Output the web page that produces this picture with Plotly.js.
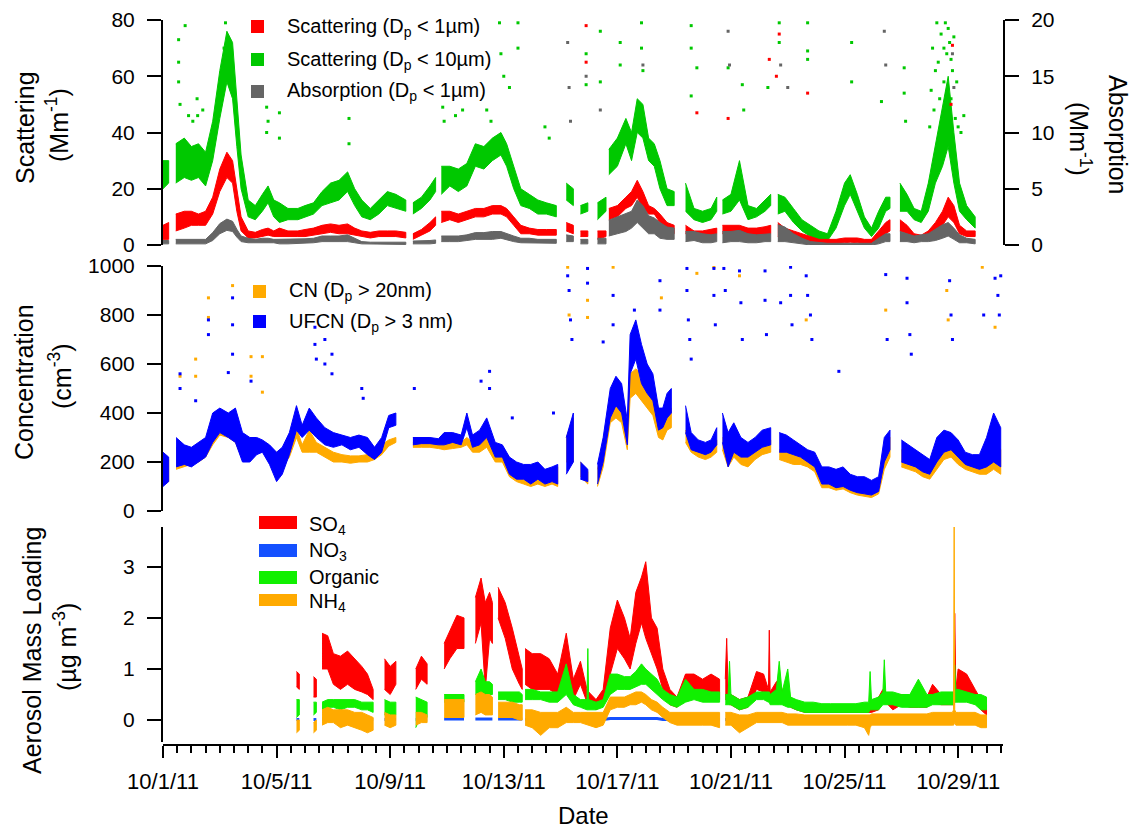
<!DOCTYPE html>
<html>
<head>
<meta charset="utf-8">
<script src="https://cdn.plot.ly/plotly-3.0.1.min.js"></script>
<style>
  html, body { margin: 0; padding: 0; background: #fff; }
  #chart { width: 1137px; height: 830px; }
</style>
</head>
<body>
<div id="chart"></div>
<script>
// Aerosol optical, number and composition record, October 2011.
// Times are days since 2011-10-01 00:00; null marks a gap in the record.
// Each band is the low/high envelope of the fast measurements.

// ---------- scattering / absorption ----------
const topDays = [
  0.0, 0.2, null,
  0.45, 0.75, 1.0, 1.25, 1.5, 1.75, 2.0, 2.25, 2.45, 2.6, 2.75, 3.0, 3.25, 3.5, 3.7, 3.9, 4.1, 4.4, 4.75, 5.0, 5.3, 5.6, 5.9, 6.2, 6.5, 6.75, 7.0, 7.3, 7.6, 7.9, 8.2, 8.55, null,
  8.8, 9.1, 9.4, 9.6, null,
  9.8, 10.1, 10.4, 10.7, 11.0, 11.3, 11.6, 11.9, 12.1, 12.35, 12.6, 12.9, 13.2, 13.5, 13.85, null,
  14.2, 14.45, null,
  14.7, 14.96, null,
  15.3, 15.6, null,
  15.7, 16.0, 16.3, 16.5, 16.7, 16.9, 17.1, 17.3, 17.5, 17.75, 18.0, null,
  18.4, 18.7, 19.0, 19.3, 19.5, null,
  19.7, 20.0, 20.3, 20.6, 20.9, 21.2, 21.4, null,
  21.65, 21.9, 22.2, 22.5, 22.8, 23.1, 23.4, 23.7, 24.0, 24.2, 24.45, 24.7, 24.95, 25.2, 25.45, 25.6, null,
  25.95, 26.2, 26.45, 26.7, 26.95, 27.2, 27.45, 27.65, 27.85, 28.05, 28.3, 28.6
];
const scat10Lo = [
  20, 22, null,
  22, 24, 23, 24, 21, 30, 45, 58, 52, 35, 20, 10, 9, 12, 15, 10, 8, 9, 9, 10, 11, 14, 15, 16, 19, 14, 10, 9, 11, 14, 13, 12, null,
  11, 13, 16, 19, null,
  18, 21, 19, 21, 28, 27, 30, 32, 28, 20, 14, 13, 11, 11, 10, null,
  16, 14, null,
  11, 12, null,
  9, 12, null,
  25, 28, 36, 30, 40, 38, 30, 28, 20, 14, 14, null,
  12, 9, 8, 9, 12, null,
  11, 12, 16, 9, 10, 12, 14, null,
  11, 12, 8, 5, 3, 1.5, 1.5, 6, 14, 18, 12, 6, 3, 6, 12, 13, null,
  12, 12, 9, 8, 12, 22, 28, 35, 22, 12, 9, 6
];
const scat10Hi = [
  30, 30, null,
  36, 38, 35, 36, 33, 44, 62, 76, 72, 52, 32, 16, 14, 18, 21, 16, 15, 13, 13, 14, 15, 19, 22, 23, 26, 20, 16, 13, 16, 19, 18, 16, null,
  15, 17, 21, 24, null,
  28, 28, 27, 29, 36, 35, 38, 40, 36, 28, 20, 18, 16, 15, 14, null,
  22, 20, null,
  14, 15, null,
  15, 17, null,
  34, 38, 45, 40, 52, 50, 38, 36, 30, 20, 19, null,
  22, 13, 12, 13, 17, null,
  16, 18, 30, 14, 13, 16, 18, null,
  18, 17, 13, 9, 7, 5, 4, 12, 22, 25, 18, 10, 6, 12, 17, 17, null,
  22, 18, 13, 12, 22, 36, 50, 60, 40, 22, 14, 10
];
const scat1Lo = [
  2, 2, null,
  5, 6, 7, 7, 7, 11, 19, 24, 22, 12, 5, 2.5, 2.5, 3, 3.5, 3, 3, 3, 3, 3, 3.5, 4, 4.5, 4, 4, 3.5, 3, 2.5, 3, 3, 3, 2.5, null,
  2, 3.5, 5, 7, null,
  8, 9, 8, 9, 10, 10, 11, 11, 10, 7, 4, 4, 3.5, 3.5, 3.5, null,
  5, 4, null,
  3, 3, null,
  2, 3, null,
  9, 10, 13, 14, 17, 13, 11, 11, 8, 5, 4, null,
  4, 3, 3.5, 3.5, 4, null,
  4, 4, 3, 3, 3.5, 3.5, 4, null,
  3, 3, 2.5, 2, 1, 0.5, 0.5, 0.5, 0.8, 1, 0.8, 0.5, 0.5, 2, 4, 5, null,
  5, 4, 2.5, 2, 3, 4, 7, 10, 8, 4, 3, 3
];
const scat1Hi = [
  7, 8, null,
  11, 12, 12, 11, 12, 17, 27, 33, 30, 20, 10, 5, 4.5, 5.5, 6, 5, 6, 5, 5, 5.5, 6, 7, 7.5, 7, 7.5, 6, 5, 4.5, 5, 5, 5, 4.5, null,
  4, 5.5, 8, 10, null,
  12, 12, 11, 12, 13, 13, 14, 14, 13, 10, 7, 6, 5.5, 5.5, 5.5, null,
  8, 7, null,
  5, 5, null,
  5, 5, null,
  13, 14, 17, 19, 23, 19, 14, 13, 11, 8, 7, null,
  7, 5, 5, 5.5, 6, null,
  7, 7, 7, 6, 6, 6.5, 7, null,
  8, 6, 5, 4, 3, 2, 2, 2, 2.5, 2.5, 2.5, 2, 2, 5, 8, 9, null,
  9, 7, 4, 3.5, 5, 8, 12, 17, 14, 7, 5, 5
];
const absLo = [
  0.1, 0.1, null,
  0.1, 0.1, 0.1, 0.1, 0.1, 0.4, 1.0, 1.3, 1.2, 0.7, 0.3, 0.2, 0.2, 0.2, 0.2, 0.2, 0.1, 0.1, 0.1, 0.15, 0.2, 0.3, 0.3, 0.3, 0.3, 0.2, 0.1, 0.05, 0.05, 0.05, 0.05, 0.05, null,
  0.1, 0.1, 0.1, 0.15, null,
  0.3, 0.3, 0.3, 0.4, 0.5, 0.5, 0.5, 0.6, 0.5, 0.3, 0.2, 0.2, 0.15, 0.15, 0.15, null,
  0.3, 0.3, null,
  0.1, 0.1, null,
  0.1, 0.1, null,
  0.8, 1.0, 1.2, 1.5, 2.0, 1.5, 1.0, 1.0, 0.6, 0.5, 0.5, null,
  0.3, 0.4, 0.2, 0.2, 0.3, null,
  0.2, 0.3, 0.3, 0.2, 0.2, 0.3, 0.3, null,
  0.3, 0.3, 0.2, 0.1, 0, 0, 0, 0, 0, 0, 0, 0, 0, 0.1, 0.3, 0.3, null,
  0.3, 0.3, 0.2, 0.3, 0.3, 0.4, 0.6, 0.8, 0.5, 0.2, 0.2, 0.1
];
const absHi = [
  0.4, 0.4, null,
  0.5, 0.5, 0.5, 0.5, 0.5, 1.1, 1.9, 2.3, 2.1, 1.4, 0.8, 0.6, 0.5, 0.6, 0.6, 0.5, 0.5, 0.5, 0.5, 0.55, 0.6, 0.8, 0.8, 0.8, 0.9, 0.6, 0.3, 0.25, 0.25, 0.25, 0.25, 0.25, null,
  0.35, 0.35, 0.4, 0.45, null,
  0.8, 0.8, 0.8, 0.9, 1.1, 1.1, 1.2, 1.2, 1.0, 0.8, 0.6, 0.6, 0.5, 0.5, 0.5, null,
  0.9, 0.8, null,
  0.5, 0.5, null,
  0.6, 0.6, null,
  2.2, 2.5, 2.8, 3.0, 4.0, 3.5, 2.6, 2.4, 2.0, 1.6, 1.5, null,
  1.2, 1.2, 1.0, 0.9, 1.0, null,
  1.2, 1.2, 1.3, 1.0, 0.9, 1.0, 1.0, null,
  1.8, 1.6, 1.0, 0.6, 0.3, 0.2, 0.15, 0.15, 0.15, 0.15, 0.15, 0.15, 0.15, 0.6, 1.0, 1.0, null,
  1.2, 1.0, 0.8, 0.9, 1.0, 1.4, 1.8, 2.0, 1.5, 0.9, 0.6, 0.5
];
// isolated high readings
const scat10SpikeDay = [0.55, 0.55, 0.55, 0.6, 0.78, 0.9, 1.05, 1.2, 1.22, 1.4, 2.15, 2.2, 2.3, 3.65, 3.65, 3.7, 4.1, 4.1, 6.55, 6.55, 9.85, 9.9, 10.3, 10.55, 11.4, 11.55, 11.85, 11.9, 12.0, 12.2, 12.5, 12.5, 13.45, 13.6, 14.9, 14.9, 15.4, 15.4, 16.1, 16.1, 16.85, 16.85, 16.9, 18.6, 18.6, 18.6, 18.8, 19.9, 20.4, 20.45, 21.3, 21.7, 21.7, 22.7, 22.7, 22.7, 24.25, 24.25, 25.3, 26.1, 26.1, 26.15, 27.0, 27.05, 27.1, 27.15, 27.2, 27.25, 27.3, 27.35, 27.4, 27.45, 27.5, 27.5, 27.55, 27.6, 27.6, 27.65, 27.7, 27.75, 27.75, 27.8, 27.85, 27.9, 27.95, 28.0, 28.1, 28.2];
const scat10SpikeVal = [73, 65, 58, 50, 78, 46, 44, 52, 46, 48, 70, 79, 66, 49, 40, 44, 47, 38, 45, 36, 49, 44, 46, 48, 48, 44, 79, 68, 60, 56, 79, 70, 42, 38, 68, 57, 76, 58, 72, 64, 79, 70, 62, 78, 70, 53, 63, 63, 57, 48, 56, 79, 72, 79, 69, 66, 72, 58, 51, 63, 54, 44, 42, 55, 70, 48, 62, 79, 65, 52, 75, 44, 58, 70, 79, 68, 54, 77, 72, 52, 66, 62, 74, 45, 58, 42, 40, 46];
const scat1SpikeDay = [14.9, 14.9, 18.8, 19.9, 21.35, 21.6, 21.7, 22.7, 27.75, 27.8];
const scat1SpikeVal = [78, 65, 47, 45, 66, 60, 75, 54, 50, 71];
const absSpikeDay = [14.25, 14.3, 14.35, 14.9, 15.4, 16.9, 19.9, 19.95, 21.75, 22.0, 25.4, 25.45, 27.8, 27.85];
const absSpikeVal = [18, 14, 11, 15, 12, 16, 19, 16, 16, 14, 19, 16, 17, 14];

// ---------- particle number ----------
const midDays = [
  0.0, 0.2, null,
  0.46, 0.75, 1.0, 1.25, 1.5, 1.75, 2.0, 2.3, 2.55, 2.8, 3.06, 3.3, 3.5, 3.75, 4.0, 4.2, 4.45, 4.7, 4.9, 5.15, 5.4, 5.7, 6.0, 6.3, 6.6, 6.9, 7.2, 7.45, 7.7, 7.95, 8.2, null,
  8.8, 9.1, 9.4, 9.7, 9.9, 10.2, 10.5, 10.7, 10.9, 11.15, 11.4, 11.7, 11.95, 12.2, 12.45, 12.7, 12.95, 13.2, 13.45, 13.7, 13.9, null,
  14.2, 14.45, null,
  14.7, 14.96, null,
  15.3, 15.5, 15.75, 15.95, 16.15, 16.35, 16.45, 16.65, 16.85, 17.05, 17.25, 17.45, 17.6, 17.75, 17.9, null,
  18.4, 18.6, 18.85, 19.1, 19.3, 19.5, null,
  19.7, 19.9, 20.1, 20.35, 20.6, 20.85, 21.1, 21.4, null,
  21.7, 21.95, 22.2, 22.45, 22.7, 22.95, 23.2, 23.45, 23.7, 23.95, 24.2, 24.45, 24.7, 24.95, 25.2, 25.4, 25.6, null,
  26.0, 26.25, 26.5, 26.75, 27.0, 27.25, 27.5, 27.75, 28.0, 28.25, 28.5, 28.75, 29.0, 29.25, 29.5
];
const ufcnLo = [
  100, 120, null,
  180, 190, 180, 200, 220, 280, 320, 300, 280, 200, 200, 230, 240, 190, 120, 150, 230, 330, 300, 330, 300, 270, 260, 270, 250, 260, 230, 210, 240, 340, 350, null,
  270, 275, 275, 270, 270, 280, 270, 340, 260, 270, 300, 220, 220, 150, 130, 130, 110, 130, 110, 120, 110, null,
  150, 200, null,
  130, 120, null,
  110, 200, 380, 430, 400, 270, 560, 620, 520, 480, 450, 330, 340, 380, 400, null,
  320, 250, 240, 230, 240, 270, null,
  280, 180, 240, 220, 220, 240, 260, 270, null,
  240, 240, 230, 220, 200, 180, 110, 110, 95, 100, 85, 75, 70, 65, 80, 200, 250, null,
  200, 190, 180, 160, 150, 200, 240, 250, 220, 190, 180, 170, 180, 200, 180
];
const ufcnHi = [
  240, 220, null,
  300, 270, 260, 280, 300, 400, 420, 400, 420, 320, 300, 300, 290, 270, 240, 260, 320, 430, 350, 420, 380, 340, 320, 310, 300, 310, 300, 260, 300, 390, 400, null,
  300, 300, 300, 295, 320, 320, 310, 400, 310, 330, 380, 280, 270, 220, 200, 190, 190, 200, 170, 180, 190, null,
  300, 400, null,
  200, 170, null,
  190, 300, 500, 550, 520, 370, 720, 780, 680, 600, 560, 420, 420, 480, 500, null,
  430, 320, 290, 280, 290, 340, null,
  400, 320, 360, 300, 280, 300, 330, 340, null,
  320, 310, 290, 270, 250, 240, 180, 180, 170, 180, 150, 140, 140, 125, 140, 300, 330, null,
  290, 270, 250, 230, 210, 300, 330, 320, 290, 240, 230, 230, 300, 400, 340
];
const cnLo = [
  110, 120, null,
  170, 180, 190, 200, 220, 270, 310, 300, 280, 210, 210, 240, 250, 200, 160, 180, 220, 300, 240, 240, 240, 220, 200, 200, 195, 200, 200, 210, 230, 265, 280, null,
  260, 260, 260, 255, 250, 255, 260, 270, 240, 240, 260, 200, 200, 140, 120, 110, 100, 110, 100, 110, 100, null,
  200, 200, null,
  140, 110, null,
  100, 180, 360, 380, 360, 250, 460, 480, 450, 420, 390, 300, 290, 330, 340, null,
  280, 240, 220, 210, 220, 240, null,
  250, 180, 220, 190, 180, 210, 230, 240, null,
  210, 200, 190, 190, 180, 160, 95, 95, 85, 90, 75, 65, 60, 55, 70, 170, 220, null,
  180, 170, 160, 140, 130, 170, 210, 220, 190, 170, 160, 150, 150, 170, 150
];
const cnHi = [
  230, 210, null,
  260, 240, 250, 250, 270, 360, 400, 380, 380, 300, 280, 280, 280, 260, 240, 250, 290, 340, 270, 330, 280, 260, 240, 230, 225, 225, 230, 260, 270, 290, 300, null,
  280, 280, 280, 275, 280, 285, 280, 300, 280, 290, 310, 260, 250, 200, 180, 170, 170, 180, 160, 160, 180, null,
  300, 380, null,
  200, 160, null,
  170, 280, 460, 480, 450, 330, 560, 580, 560, 520, 480, 380, 350, 420, 420, null,
  330, 290, 260, 250, 260, 290, null,
  300, 280, 300, 240, 220, 260, 280, 290, null,
  250, 250, 230, 230, 220, 210, 150, 150, 140, 150, 130, 120, 115, 105, 120, 260, 300, null,
  250, 240, 220, 200, 190, 250, 280, 280, 250, 210, 200, 200, 240, 300, 250
];
const ufcnSpikeDay = [0.6, 0.6, 1.15, 1.6, 1.6, 2.3, 2.45, 2.45, 2.45, 3.1, 5.35, 5.35, 5.4, 5.7, 5.7, 5.95, 5.95, 7.0, 7.05, 8.85, 11.2, 11.5, 11.5, 12.3, 13.75, 14.25, 14.3, 14.35, 14.4, 14.95, 14.95, 15.5, 15.85, 15.85, 16.6, 17.5, 17.5, 18.45, 18.45, 18.5, 18.55, 18.6, 19.4, 19.4, 19.45, 19.75, 19.8, 20.3, 20.35, 20.4, 21.2, 21.2, 21.25, 21.75, 22.1, 22.1, 22.15, 22.65, 22.7, 22.8, 22.85, 23.8, 25.45, 25.5, 26.2, 26.2, 26.3, 26.35, 27.7, 27.75, 27.8, 28.9, 29.3, 29.4, 29.45, 29.5];
const ufcnSpikeVal = [560, 500, 450, 780, 720, 565, 870, 760, 640, 530, 750, 680, 620, 700, 600, 640, 560, 500, 460, 500, 530, 570, 500, 380, 400, 960, 900, 780, 700, 990, 930, 690, 880, 760, 820, 940, 820, 990, 900, 780, 700, 620, 990, 880, 760, 990, 900, 980, 850, 700, 980, 860, 720, 850, 995, 880, 760, 960, 880, 800, 700, 570, 965, 700, 950, 850, 720, 640, 940, 800, 700, 800, 950, 880, 800, 960];
const cnSpikeDay = [0.6, 1.15, 1.15, 1.6, 1.6, 2.45, 3.1, 3.1, 3.5, 3.5, 14.25, 14.3, 14.95, 14.95, 15.85, 17.55, 18.8, 19.4, 20.3, 22.65, 25.45, 27.6, 27.65, 28.85, 29.3];
const cnSpikeVal = [550, 620, 550, 870, 790, 920, 630, 550, 630, 485, 995, 800, 860, 790, 995, 870, 970, 995, 960, 780, 820, 900, 780, 995, 750];

// ---------- aerosol composition ----------
const botDays = [
  4.7, 4.8, null,
  5.3, 5.4, null,
  5.6, 5.8, 6.0, 6.25, 6.5, 6.75, 7.0, 7.2, 7.4, null,
  7.8, 8.0, 8.2, null,
  8.9, 9.1, 9.3, null,
  9.9, 10.1, 10.35, 10.6, null,
  11.0, 11.2, 11.35, 11.5, 11.6, null,
  11.8, 12.05, 12.3, 12.55, 12.65, null,
  12.75, 13.0, 13.3, 13.6, 13.9, 14.2, 14.45, 14.7, 14.93, 14.96, 14.99, 15.25, 15.5, 15.75, 16.0, 16.25, 16.45, 16.65, 16.85, 17.0, 17.2, 17.4, 17.6, 17.85, 18.1, 18.4, 18.7, 19.0, 19.3, 19.6, null,
  19.8, 19.85, 19.9, 19.95, 20.0, 20.3, 20.6, 20.9, 21.15, 21.32, 21.35, 21.38, 21.6, 21.7, 21.8, 22.0, 22.1, 22.3, 22.6, 22.9, 23.2, 23.5, 23.8, 24.1, 24.4, 24.7, 24.85, 24.9, 24.95, 25.2, 25.35, 25.4, 25.45, 25.7, 26.0, 26.3, 26.6, 26.9, 27.1, 27.4, 27.8, 27.84, 27.86, 27.88, 27.92, 28.0, 28.3, 28.6, 28.8, 29.0
];
const so4Lo = [
  0.65, 0.60, null,
  0.45, 0.45, null,
  1.00, 1.00, 0.70, 0.60, 0.70, 0.60, 0.55, 0.50, 0.40, null,
  0.60, 0.50, 0.70, null,
  0.60, 0.80, 0.70, null,
  1.00, 1.20, 1.40, 1.40, null,
  1.50, 1.90, 0.60, 1.60, 1.50, null,
  2.00, 1.60, 1.00, 0.70, 0.60, null,
  0.70, 0.60, 0.60, 0.60, 0.50, 0.90, 0.40, 0.70, 0.35, 0.35, 0.35, 0.20, 0.30, 0.90, 1.40, 1.20, 1.00, 1.50, 1.90, 1.60, 1.30, 1.00, 0.60, 0.30, 0.25, 0.50, 0.60, 0.50, 0.50, 0.40, null,
  0.40, 0.40, 0.35, 0.30, 0.30, 0.20, 0.25, 0.60, 0.55, 0.40, 0.40, 0.35, 0.45, 0.50, 0.40, 0.30, 0.25, 0.20, 0.15, 0.15, 0.15, 0.15, 0.15, 0.15, 0.15, 0.15, 0.15, 0.15, 0.15, 0.20, 0.40, 0.40, 0.35, 0.20, 0.30, 0.25, 0.25, 0.25, 0.35, 0.30, 0.30, 0.30, 0.30, 0.40, 0.40, 0.50, 0.50, 0.35, 0.20, 0.10
];
const so4Hi = [
  0.95, 0.90, null,
  0.85, 0.80, null,
  1.70, 1.65, 1.30, 1.25, 1.35, 1.20, 1.05, 0.90, 0.60, null,
  1.20, 1.05, 1.15, null,
  1.00, 1.25, 1.10, null,
  1.50, 1.75, 2.05, 2.00, null,
  2.40, 2.78, 2.30, 2.50, 2.30, null,
  2.60, 2.30, 1.80, 1.20, 1.00, null,
  1.40, 1.30, 1.30, 1.20, 0.90, 1.70, 0.80, 1.15, 0.60, 0.60, 0.55, 0.40, 0.60, 1.80, 2.35, 2.00, 1.60, 2.50, 2.80, 3.10, 2.00, 1.80, 1.00, 0.60, 0.45, 0.90, 0.90, 0.80, 0.90, 0.80, null,
  0.80, 1.60, 0.60, 0.50, 0.50, 0.40, 0.45, 0.95, 0.90, 0.60, 1.76, 0.55, 0.75, 0.80, 0.60, 0.45, 0.40, 0.35, 0.30, 0.30, 0.30, 0.30, 0.30, 0.30, 0.30, 0.30, 0.30, 0.30, 0.35, 0.45, 0.60, 0.60, 0.55, 0.45, 0.50, 0.45, 0.45, 0.45, 0.70, 0.50, 0.50, 0.50, 0.50, 2.09, 0.60, 1.00, 0.90, 0.60, 0.40, 0.30
];
const orgLo = [
  0.05, 0.10, null,
  0.10, 0.15, null,
  0.20, 0.25, 0.25, 0.20, 0.25, 0.25, 0.20, 0.20, 0.15, null,
  0.10, 0.10, 0.10, null,
  -0.15, 0.10, 0.05, null,
  0.35, 0.35, 0.35, 0.35, null,
  0.50, 0.50, 0.45, 0.50, 0.50, null,
  0.40, 0.40, 0.35, 0.35, 0.35, null,
  0.40, 0.40, 0.40, 0.35, 0.35, 0.50, 0.30, 0.25, 0.20, 0.20, 0.20, 0.20, 0.25, 0.50, 0.60, 0.60, 0.60, 0.65, 0.70, 0.70, 0.60, 0.50, 0.40, 0.30, 0.25, 0.35, 0.40, 0.35, 0.35, 0.35, null,
  0.30, 0.30, 0.30, 0.30, 0.30, 0.20, 0.25, 0.40, 0.40, 0.35, 0.35, 0.30, 0.30, 0.30, 0.30, 0.25, 0.25, 0.20, 0.15, 0.15, 0.15, 0.15, 0.15, 0.15, 0.15, 0.15, 0.15, 0.20, 0.20, 0.20, 0.30, 0.30, 0.30, 0.30, 0.25, 0.25, 0.25, 0.25, 0.30, 0.30, 0.30, 0.30, 0.30, 0.35, 0.35, 0.35, 0.35, 0.30, 0.20, 0.20
];
const orgHi = [
  0.40, 0.40, null,
  0.35, 0.35, null,
  0.35, 0.40, 0.40, 0.40, 0.40, 0.40, 0.35, 0.35, 0.35, null,
  0.40, 0.35, 0.35, null,
  0.45, 0.40, 0.35, null,
  0.50, 0.50, 0.50, 0.50, null,
  0.75, 1.00, 0.75, 0.75, 0.70, null,
  0.55, 0.55, 0.55, 0.55, 0.50, null,
  0.60, 0.60, 0.55, 0.55, 0.55, 1.10, 0.50, 0.40, 0.40, 1.40, 0.40, 0.35, 0.40, 0.90, 0.90, 0.85, 0.85, 0.95, 1.10, 1.00, 0.90, 0.80, 0.60, 0.50, 0.45, 0.80, 0.60, 0.60, 0.55, 0.55, null,
  0.50, 0.50, 0.50, 1.15, 0.50, 0.40, 0.45, 0.55, 0.55, 0.55, 0.55, 0.50, 0.60, 1.15, 0.55, 1.00, 0.45, 0.40, 0.35, 0.35, 0.32, 0.32, 0.32, 0.32, 0.32, 0.35, 0.35, 0.95, 0.40, 0.45, 0.55, 1.18, 0.55, 0.55, 0.50, 0.50, 0.80, 0.50, 0.50, 0.55, 0.55, 0.55, 0.55, 1.08, 0.60, 0.60, 0.55, 0.50, 0.50, 0.45
];
const nh4Lo = [
  -0.25, -0.20, null,
  -0.25, -0.20, null,
  -0.10, -0.05, -0.05, -0.15, -0.10, -0.15, -0.20, -0.25, -0.20, null,
  -0.10, -0.15, -0.10, null,
  -0.10, -0.05, -0.05, null,
  0.05, 0.05, 0.05, 0.05, null,
  0.10, 0.15, 0.10, 0.10, 0.10, null,
  0.05, 0.05, 0.05, 0.00, 0.00, null,
  -0.10, -0.15, -0.30, -0.15, -0.15, -0.05, -0.05, -0.05, -0.10, -0.10, -0.10, -0.15, -0.10, 0.20, 0.25, 0.25, 0.30, 0.30, 0.35, 0.30, 0.20, 0.15, 0.05, -0.05, -0.10, -0.10, -0.10, -0.10, -0.10, -0.15, null,
  -0.10, -0.10, -0.10, -0.10, -0.10, -0.25, -0.15, -0.05, -0.05, -0.05, -0.05, -0.05, -0.05, -0.05, -0.05, -0.10, -0.10, -0.10, -0.10, -0.10, -0.10, -0.10, -0.10, -0.10, -0.10, -0.15, -0.30, -0.15, -0.10, -0.10, -0.10, -0.10, -0.10, -0.10, -0.10, -0.10, -0.10, -0.10, -0.10, -0.10, -0.10, -0.10, -0.10, -0.05, -0.10, -0.10, -0.10, -0.10, -0.15, -0.15
];
const nh4Hi = [
  0.00, 0.00, null,
  -0.05, 0.00, null,
  0.20, 0.25, 0.20, 0.20, 0.20, 0.15, 0.15, 0.10, 0.05, null,
  0.15, 0.10, 0.10, null,
  0.15, 0.15, 0.10, null,
  0.40, 0.40, 0.40, 0.40, null,
  0.50, 0.55, 0.50, 0.50, 0.45, null,
  0.35, 0.35, 0.35, 0.30, 0.30, null,
  0.20, 0.20, 0.15, 0.15, 0.15, 0.25, 0.15, 0.15, 0.15, 0.15, 0.15, 0.15, 0.15, 0.45, 0.45, 0.45, 0.50, 0.55, 0.55, 0.50, 0.40, 0.35, 0.25, 0.15, 0.15, 0.15, 0.15, 0.15, 0.15, 0.15, null,
  0.15, 0.15, 0.15, 0.15, 0.15, 0.10, 0.10, 0.15, 0.15, 0.15, 0.15, 0.15, 0.15, 0.15, 0.15, 0.12, 0.12, 0.12, 0.10, 0.10, 0.10, 0.10, 0.10, 0.10, 0.10, 0.10, 0.10, 0.10, 0.12, 0.12, 0.12, 0.12, 0.12, 0.12, 0.12, 0.12, 0.12, 0.12, 0.15, 0.15, 0.15, 0.20, 3.79, 0.20, 0.15, 0.15, 0.15, 0.15, 0.10, 0.10
];
const no3 = [
  0.01, 0.01, null,
  0.01, 0.01, null,
  0.01, 0.01, 0.01, 0.01, 0.01, 0.01, 0.01, 0.01, 0.01, null,
  0.01, 0.01, 0.01, null,
  0.01, 0.01, 0.01, null,
  0.02, 0.02, 0.02, 0.02, null,
  0.02, 0.02, 0.02, 0.02, 0.02, null,
  0.02, 0.02, 0.02, 0.02, 0.02, null,
  0.01, 0.01, 0.01, 0.01, 0.01, 0.01, 0.01, 0.01, 0.01, 0.01, 0.01, 0.01, 0.01, 0.03, 0.03, 0.03, 0.03, 0.03, 0.03, 0.03, 0.03, 0.03, 0.01, 0.01, 0.01, 0.01, 0.01, 0.01, 0.01, 0.01, null,
  0.01, 0.01, 0.01, 0.01, 0.01, 0.01, 0.01, 0.01, 0.01, 0.01, 0.01, 0.01, 0.01, 0.01, 0.01, 0.01, 0.01, 0.01, 0.01, 0.01, 0.01, 0.01, 0.01, 0.01, 0.01, 0.01, 0.01, 0.01, 0.01, 0.01, 0.01, 0.01, 0.01, 0.01, 0.01, 0.01, 0.01, 0.01, 0.01, 0.01, 0.01, 0.01, 0.01, 0.01, 0.01, 0.01, 0.01, 0.01, 0.01, 0.01
];

// ---------- axis labels ----------
const dateTickDays = [0, 4, 8, 12, 16, 20, 24, 28];
const dateTickText = ['10/1/11', '10/5/11', '10/9/11', '10/13/11', '10/17/11', '10/21/11', '10/25/11', '10/29/11'];

// ---------- helpers ----------
const T0 = Date.UTC(2011, 9, 1);
function toDate(d) {
  const t = new Date(T0 + Math.round(d * 86400000));
  return t.toISOString().slice(0, 19).replace('T', ' ');
}

// closed polygon per contiguous run: high edge forward, low edge back
function band(days, lo, hi, color, yaxis) {
  const x = [], y = [];
  let run = [];
  const flush = () => {
    if (run.length > 1) {
      run.forEach(i => { x.push(toDate(days[i])); y.push(hi[i]); });
      for (let k = run.length - 1; k >= 0; k--) { x.push(toDate(days[run[k]])); y.push(lo[run[k]]); }
      x.push(null); y.push(null);
    }
    run = [];
  };
  days.forEach((d, i) => { if (d === null || lo[i] === null) flush(); else run.push(i); });
  flush();
  return {
    type: 'scatter', mode: 'lines', x, y, yaxis,
    fill: 'toself', fillcolor: color,
    line: { color, width: 1 }, hoverinfo: 'skip', showlegend: false
  };
}
function dots(days, vals, color, yaxis) {
  return {
    type: 'scatter', mode: 'markers', yaxis,
    x: days.map(toDate), y: vals,
    marker: { color, size: 3, symbol: 'square', line: { width: 0 } },
    hoverinfo: 'skip', showlegend: false, cliponaxis: true
  };
}
function line(days, vals, color, width, yaxis) {
  return {
    type: 'scatter', mode: 'lines', yaxis,
    x: days.map(d => d === null ? null : toDate(d)), y: vals,
    line: { color, width }, connectgaps: false,
    hoverinfo: 'skip', showlegend: false
  };
}

const COL = {
  scat1: '#ff0000', scat10: '#00c800', abs: '#656565',
  cn: '#ffaa00', ufcn: '#0000ff',
  so4: '#ff0000', no3: '#1450ff', org: '#10f000', nh4: '#ffaa00'
};

const traces = [
  band(topDays, scat10Lo, scat10Hi, COL.scat10, 'y'),
  dots(scat10SpikeDay, scat10SpikeVal, COL.scat10, 'y'),
  band(topDays, scat1Lo, scat1Hi, COL.scat1, 'y'),
  dots(scat1SpikeDay, scat1SpikeVal, COL.scat1, 'y'),
  band(topDays, absLo, absHi, COL.abs, 'y2'),
  dots(absSpikeDay, absSpikeVal, COL.abs, 'y2'),

  band(midDays, cnLo, cnHi, COL.cn, 'y3'),
  dots(cnSpikeDay, cnSpikeVal, COL.cn, 'y3'),
  band(midDays, ufcnLo, ufcnHi, COL.ufcn, 'y3'),
  dots(ufcnSpikeDay, ufcnSpikeVal, COL.ufcn, 'y3'),

  band(botDays, so4Lo, so4Hi, COL.so4, 'y4'),
  line(botDays, no3, COL.no3, 3, 'y4'),
  band(botDays, orgLo, orgHi, COL.org, 'y4'),
  band(botDays, nh4Lo, nh4Hi, COL.nh4, 'y4')
];

// ---------- layout ----------
const L = 163, R = 1003, T = 20, B = 745;
const px = v => (v - L) / (R - L);
const py = v => (B - v) / (B - T);

const FONT = 'Liberation Sans, Arial, Helvetica, sans-serif';
const axisBase = {
  showline: true, linecolor: '#000', linewidth: 2,
  ticks: 'outside', ticklen: 14, tickwidth: 2, tickcolor: '#000',
  showgrid: false, zeroline: false, fixedrange: true, automargin: false,
  ticklabelstandoff: 8,
  tickfont: { family: FONT, size: 21, color: '#000' }
};

function legendSwatch(x0, x1, y0, y1, color) {
  return { type: 'rect', xref: 'paper', yref: 'paper', x0: px(x0), x1: px(x1), y0: py(y1), y1: py(y0),
           fillcolor: color, line: { width: 0 } };
}
function label(x, y, text, opts) {
  return Object.assign({ xref: 'paper', yref: 'paper', x: px(x), y: py(y), text, showarrow: false,
                         xanchor: 'left', yanchor: 'middle', font: { family: FONT, size: 20, color: '#000' } }, opts || {});
}
function title(x, y, text, angle) {
  return { xref: 'paper', yref: 'paper', x: px(x), y: py(y), text, showarrow: false, textangle: angle,
           xanchor: 'center', yanchor: 'middle', font: { family: FONT, size: 25, color: '#000' } };
}

const layout = {
  width: 1137, height: 830,
  margin: { l: L, r: 1137 - R, t: T, b: 830 - B },
  paper_bgcolor: '#fff', plot_bgcolor: 'rgba(0,0,0,0)',
  showlegend: false, hovermode: false,
  font: { family: FONT, size: 21, color: '#000' },
  xaxis: Object.assign({}, axisBase, {
    type: 'date', anchor: 'free', position: 0,
    range: [toDate(0), toDate(29.58)],
    tickmode: 'array', tickvals: dateTickDays.map(toDate), ticktext: dateTickText,
    ticklen: 12, ticklabelstandoff: 5,
    tickfont: { family: FONT, size: 22, color: '#000' },
    minor: { tickmode: 'linear', tick0: toDate(0), dtick: 43200000, ticks: 'outside',
             ticklen: 7, tickwidth: 2, tickcolor: '#000', showgrid: false }
  }),
  yaxis: Object.assign({}, axisBase, { domain: [py(245), 1], range: [0, 80], tickvals: [0, 20, 40, 60, 80], anchor: 'x' }),
  yaxis2: Object.assign({}, axisBase, { overlaying: 'y', side: 'right', range: [0, 20], tickvals: [0, 5, 10, 15, 20], anchor: 'x' }),
  yaxis3: Object.assign({}, axisBase, { domain: [py(511), py(266)], range: [0, 1000], tickvals: [0, 200, 400, 600, 800, 1000], anchor: 'x' }),
  yaxis4: Object.assign({}, axisBase, { domain: [py(742), py(527)], range: [-0.43, 3.78], tickvals: [0, 1, 2, 3], anchor: 'x' }),
  shapes: [
    legendSwatch(251, 264, 20, 33, COL.scat1),
    legendSwatch(251, 264, 53, 66, COL.scat10),
    legendSwatch(251, 264, 85, 98, COL.abs),
    legendSwatch(253, 266, 285, 298, COL.cn),
    legendSwatch(253, 266, 315, 328, COL.ufcn),
    legendSwatch(259, 297, 516, 529, COL.so4),
    legendSwatch(259, 297, 544, 557, COL.no3),
    legendSwatch(259, 297, 571, 584, COL.org),
    legendSwatch(259, 297, 594, 606, COL.nh4)
  ],
  annotations: [
    label(285, 27, 'Scattering (D<sub>p</sub> &lt; 1\u00b5m)'),
    label(285, 60, 'Scattering (D<sub>p</sub> &lt; 10\u00b5m)'),
    label(285, 92, 'Absorption (D<sub>p</sub> &lt; 1\u00b5m)'),
    label(287, 292, 'CN (D<sub>p</sub> &gt; 20nm)'),
    label(287, 322, 'UFCN (D<sub>p</sub> &gt; 3 nm)'),
    label(307, 525, 'SO<sub>4</sub>'),
    label(307, 551, 'NO<sub>3</sub>'),
    label(307, 577, 'Organic'),
    label(307, 602, 'NH<sub>4</sub>'),
    title(25, 128, 'Scattering', -90),
    title(57, 125, '(Mm<sup>-1</sup>)', -90),
    title(24, 382, 'Concentration', -90),
    title(60, 376, '(cm<sup>-3</sup>)', -90),
    title(32, 651, 'Aerosol Mass Loading', -90),
    title(65, 647, '(\u00b5g m<sup>-3</sup>)', -90),
    title(1118, 135, 'Absorption', 90),
    title(1080, 139, '(Mm<sup>-1</sup>)', 90),
    Object.assign(title(583, 815, 'Date', 0), { font: { family: FONT, size: 24, color: '#000' } })
  ]
};

Plotly.newPlot('chart', traces, layout, { staticPlot: true, displayModeBar: false });
</script>
</body>
</html>
